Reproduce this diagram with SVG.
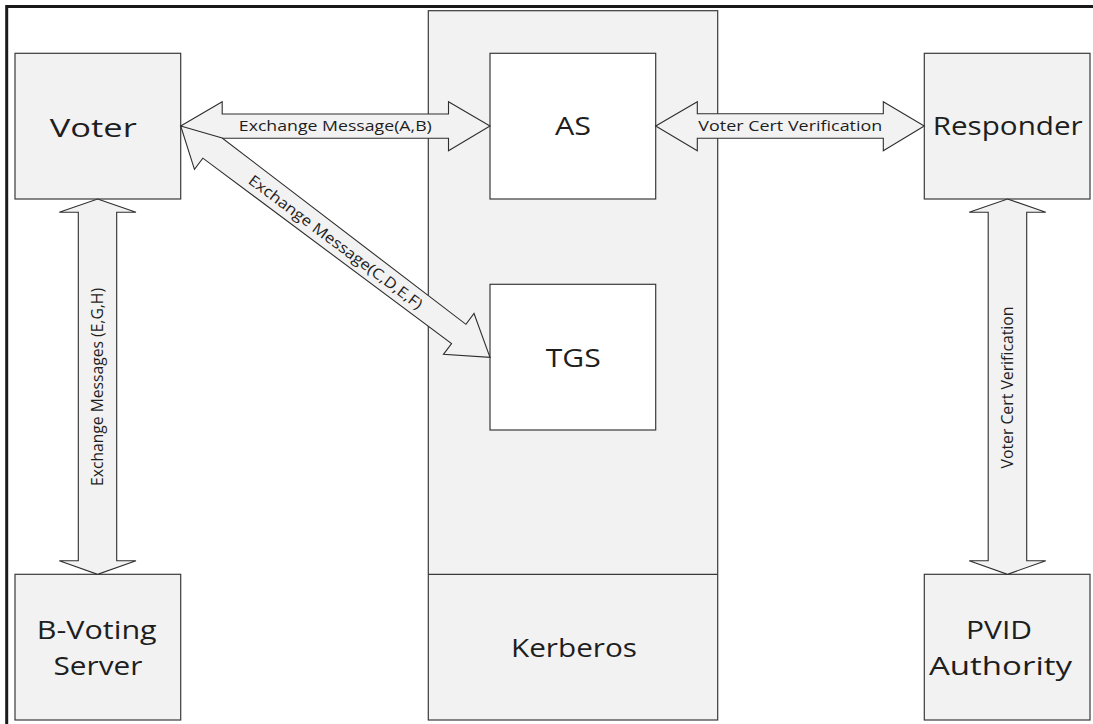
<svg xmlns="http://www.w3.org/2000/svg" width="1093" height="724" viewBox="0 0 1093 724">
<style>
.box{fill:#f2f2f2;stroke:#3a3a3a;stroke-width:1.2}
.inner{fill:#ffffff;stroke:#3a3a3a;stroke-width:1.2}
.arr{fill:#f2f2f2;stroke:#2e2e2e;stroke-width:1.1;stroke-linejoin:miter}
.big{font-family:"Open Sans","Liberation Sans",sans-serif;font-size:26px;fill:#1e1e1e;text-anchor:middle}
.lbl{font-family:"Open Sans","Liberation Sans",sans-serif;font-size:15px;fill:#1e1e1e;text-anchor:middle}
.vl{font-size:16px}
</style>
<rect width="1093" height="724" fill="#ffffff"/>
<path d="M6.7,724 V6.5 H1093" fill="none" stroke="#1a1a1a" stroke-width="3"/>

<g id="kerberos">
<rect class="box" x="428.3" y="10.7" width="289.4" height="709.3"/>
<line x1="428.3" y1="574.3" x2="717.7" y2="574.3" stroke="#3a3a3a" stroke-width="1.2"/>
<text class="big" x="574" y="656.7" textLength="126" lengthAdjust="spacingAndGlyphs">Kerberos</text>
</g>
<g id="as">
<rect class="inner" x="490" y="53.3" width="165.7" height="145.7"/>
<text class="big" x="573" y="135" textLength="36" lengthAdjust="spacingAndGlyphs">AS</text>
</g>
<g id="tgs">
<rect class="inner" x="490" y="284.3" width="165.7" height="145.7"/>
<text class="big" x="573.2" y="366.7" textLength="55" lengthAdjust="spacingAndGlyphs">TGS</text>
</g>
<g id="voter">
<rect class="box" x="15" y="53.3" width="165.7" height="145.7"/>
<text class="big" x="93.3" y="136.7" textLength="87" lengthAdjust="spacingAndGlyphs">Voter</text>
</g>
<g id="responder">
<rect class="box" x="924.3" y="53.3" width="165.7" height="145.7"/>
<text class="big" x="1007.7" y="135" textLength="150" lengthAdjust="spacingAndGlyphs">Responder</text>
</g>
<g id="bvoting">
<rect class="box" x="15" y="574.3" width="165.7" height="145.7"/>
<text class="big" x="96.7" y="639.3" textLength="120" lengthAdjust="spacingAndGlyphs">B-Voting</text>
<text class="big" x="98" y="675" textLength="89" lengthAdjust="spacingAndGlyphs">Server</text>
</g>
<g id="pvid">
<rect class="box" x="924.3" y="574.3" width="165.7" height="145.7"/>
<text class="big" x="999" y="639.3" textLength="66" lengthAdjust="spacingAndGlyphs">PVID</text>
<text class="big" x="1000.5" y="675" textLength="143" lengthAdjust="spacingAndGlyphs">Authority</text>
</g>

<g id="connectors">
<g id="voter-as">
<polygon class="arr" points="180.7,126 222.2,101.7 222.2,114 448.5,114 448.5,101.7 490,126 448.5,150.7 448.5,138.3 222.2,138.3 222.2,150.7"/>
<text class="lbl" x="335.3" y="131.3" textLength="193" lengthAdjust="spacingAndGlyphs">Exchange Message(A,B)</text>
</g>
<g id="voter-tgs" transform="translate(180.7,126) rotate(36.79)">
<polygon class="arr" points="0,0 40.4,-15.2 347.2,-12 347.2,-25.5 386.2,0 347.2,25.5 347.2,12 37,12.5 37,26.5"/>
<text class="lbl" x="193.6" y="5.3" textLength="213" lengthAdjust="spacingAndGlyphs">Exchange Message(C,D,E,F)</text>
</g>
<g id="as-responder">
<polygon class="arr" points="655.7,126 697.3,101.7 697.3,113.7 883.3,113.7 883.3,101.7 924.3,126 883.3,150.7 883.3,138.3 697.3,138.3 697.3,150.7"/>
<text class="lbl" x="790.3" y="131.3" textLength="184" lengthAdjust="spacingAndGlyphs">Voter Cert Verification</text>
</g>
<g id="voter-bvoting">
<polygon class="arr" points="97.6,199 136,212.3 116.7,212.3 116.7,560.7 136,560.7 97.6,574.3 59.3,560.7 78.3,560.7 78.3,212.3 59.3,212.3"/>
<text class="lbl vl" transform="translate(97.5,387) rotate(-90)" x="0" y="5.5" textLength="198" lengthAdjust="spacingAndGlyphs">Exchange Messages (E,G,H)</text>
</g>
<g id="responder-pvid">
<polygon class="arr" points="1007.5,199 1045.8,212.3 1026.7,212.3 1026.7,560.7 1045.8,560.7 1007.5,574.3 969.2,560.7 988.2,560.7 988.2,212.3 969.2,212.3"/>
<text class="lbl vl" transform="translate(1007.5,387.5) rotate(-90)" x="0" y="5.5" textLength="162" lengthAdjust="spacingAndGlyphs">Voter Cert Verification</text>
</g>
</g>
</svg>
